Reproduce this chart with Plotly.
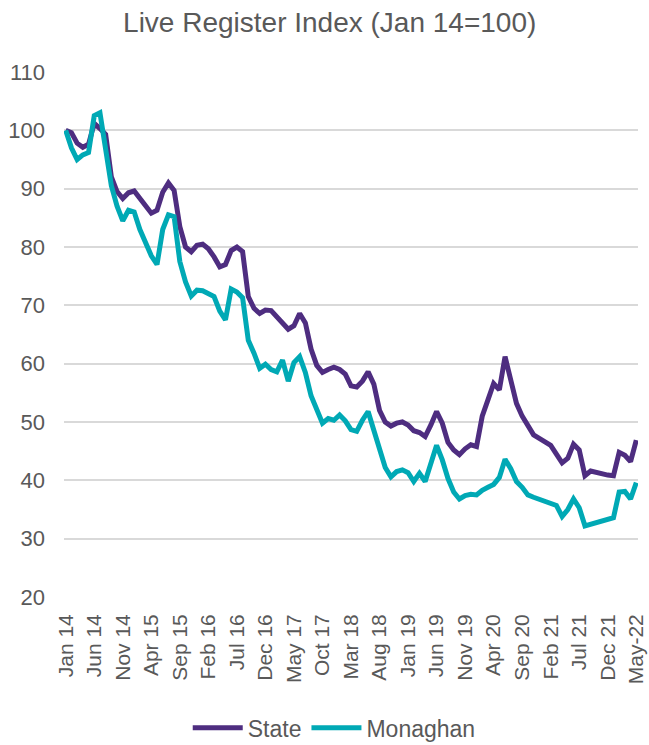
import plotly.graph_objects as go

months = []
mnames = ["Jan", "Feb", "Mar", "Apr", "May", "Jun", "Jul", "Aug", "Sep", "Oct", "Nov", "Dec"]
for y in range(14, 23):
    for m in mnames:
        months.append(f"{m} {y}")
months = months[:101]  # Jan 14 .. May 22

tick_labels = ["Jan 14", "Jun 14", "Nov 14", "Apr 15", "Sep 15", "Feb 16", "Jul 16",
               "Dec 16", "May 17", "Oct 17", "Mar 18", "Aug 18", "Jan 19", "Jun 19",
               "Nov 19", "Apr 20", "Sep 20", "Feb 21", "Jul 21", "Dec 21", "May-22"]
tick_positions = list(range(0, 101, 5))

state = [100, 99.6, 97.8, 97.1, 97.6, 101.2, 100.3, 99.3, 92, 89.5,
         88.3, 89.3, 89.6, 88.4, 87, 85.8, 86.3, 89.4, 91, 89.7,
         83.5, 80, 79.2, 80.3, 80.5, 79.7, 78.3, 76.6, 77, 79.4,
         80, 79.2, 71.5, 69.5, 68.6, 69.2, 69.1, 68, 66.8, 65.9,
         66.5, 68.6, 67, 62.5, 59.7, 58.5, 59, 59.4, 59, 58.2,
         56.2, 56, 57, 58.6, 56.5, 52, 50, 49.3, 49.8, 50,
         49.5, 48.5, 48.2, 47.5, 49.5, 51.8, 49.8, 46.5, 45.2, 44.4,
         45.4, 46.1, 45.8, 51, 53.8, 56.6, 55.5, 61.2, 57.2, 53.2,
         51, 49.5, 47.8, 47.2, 46.6, 46, 44.5, 43, 43.8, 46.2,
         45.2, 40.8, 41.6, 41.3, 41.1, 40.9, 40.8, 44.8, 44.3, 43.2,
         46.9]

monaghan = [100, 97, 95, 95.8, 96.2, 102.5, 103, 97, 90.5, 87,
            84.5, 86.3, 86, 83, 80.5, 78.5, 77, 83, 85.5, 85.2,
            77.5, 74, 71.6, 72.6, 72.5, 71.9, 71.5, 69, 67.5, 72.8,
            72.3, 71.3, 64, 61.8, 59.2, 59.9, 59, 58.6, 60.6, 57,
            60.2, 61.2, 58.5, 54.5, 52.3, 49.8, 50.6, 50.3, 51.2, 50.2,
            48.7, 48.4, 50.3, 51.8, 48.6, 45, 42.2, 40.6, 41.5, 41.8,
            41.3, 39.8, 41.2, 39.8, 43, 46, 43.5, 40.3, 38, 36.8,
            37.4, 37.6, 37.5, 38.3, 38.8, 39.3, 40.5, 43.6, 42, 39.8,
            38.8, 37.5, 37.1, 36.8, 36.5, 36.2, 35.7, 33.8, 35, 36.8,
            35.3, 32.2, 32.5, 32.8, 33, 33.2, 33.6, 38, 38.1, 36.8,
            39.6]

x_idx = list(range(len(months)))

font_fam = "Liberation Sans, Arial, sans-serif"
grey = "#595959"

fig = go.Figure()
fig.add_trace(go.Scatter(x=x_idx, y=state, mode="lines", name="State",
                         line=dict(color="#4E2D80", width=5), text=months,
                         hovertemplate="%{text}: %{y}<extra>State</extra>"))
fig.add_trace(go.Scatter(x=x_idx, y=monaghan, mode="lines", name="Monaghan",
                         line=dict(color="#00A9B5", width=5), text=months,
                         hovertemplate="%{text}: %{y}<extra>Monaghan</extra>"))

fig.update_layout(
    width=649, height=745,
    margin=dict(l=64, r=11, t=72, b=148, autoexpand=False),
    paper_bgcolor="white", plot_bgcolor="white",
    font=dict(family=font_fam, color=grey, size=22),
    title=dict(text="Live Register Index (Jan 14=100)", x=0.508, xref="container",
               y=0.970, yref="container", xanchor="center", yanchor="middle",
               font=dict(size=28, color=grey, family=font_fam)),
    showlegend=True,
    legend=dict(orientation="h", x=0.515, xref="container", xanchor="center",
                y=0.023, yref="container", yanchor="middle",
                font=dict(size=23, color=grey), itemwidth=50, tracegroupgap=0),
    xaxis=dict(range=[-0.3, 100.3], tickmode="array", tickvals=tick_positions,
               ticktext=tick_labels, tickangle=-90, showgrid=False, zeroline=False,
               showline=False, ticks="", ticklabelstandoff=12, automargin=False,
               ticklabeloverflow="allow", tickfont=dict(size=21, color=grey)),
    yaxis=dict(range=[20, 110], tickvals=list(range(20, 111, 10)), showgrid=True,
               gridcolor="#D9D9D9", gridwidth=1.5, zeroline=False, showline=False,
               ticks="", ticklabelstandoff=18, automargin=False,
               tickfont=dict(size=22, color=grey)),
)

fig.write_html("out.html", config={"displayModeBar": False},
               post_script="document.body.style.margin='0';document.body.style.overflow='hidden';")
